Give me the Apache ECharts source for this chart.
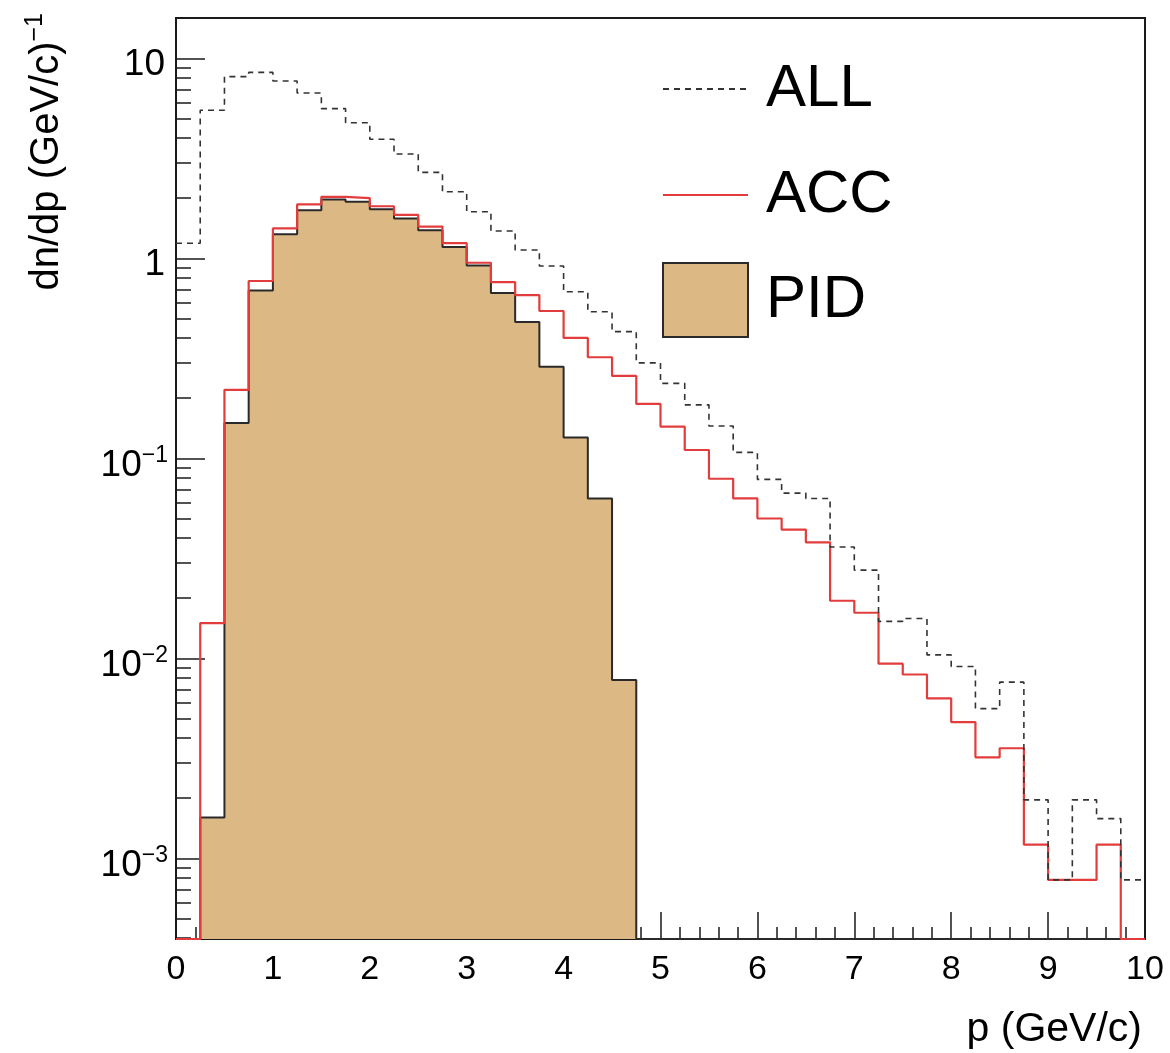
<!DOCTYPE html>
<html>
<head>
<meta charset="utf-8">
<script src="https://cdn.jsdelivr.net/npm/echarts@6/dist/echarts.min.js"></script>
<style>
html,body{margin:0;padding:0;background:#ffffff;}
#chart{width:1170px;height:1053px;}
</style>
</head>
<body>
<div id="chart"></div>
<script>
// ---- data ----
const binEdges = [0, 0.25, 0.5, 0.75, 1, 1.25, 1.5, 1.75, 2, 2.25, 2.5, 2.75, 3, 3.25, 3.5, 3.75,
  4, 4.25, 4.5, 4.75, 5, 5.25, 5.5, 5.75, 6, 6.25, 6.5, 6.75, 7, 7.25, 7.5, 7.75,
  8, 8.25, 8.5, 8.75, 9, 9.25, 9.5, 9.75, 10];

const allValues = [1.19, 5.5, 8.1, 8.5, 7.7, 6.7, 5.6, 4.76, 3.94, 3.32,
  2.69, 2.15, 1.71, 1.37, 1.10, 0.915, 0.68, 0.54, 0.43, 0.30,
  0.237, 0.185, 0.145, 0.107, 0.0785, 0.067, 0.063, 0.036, 0.0276, 0.0153,
  0.0158, 0.0104, 0.0091, 0.0056, 0.0076, 0.00196, 0.00078, 0.00196, 0.00158, 0.00078];

const accValues = [0, 0.015, 0.22, 0.77, 1.41, 1.86, 2.03, 2.0, 1.82, 1.65,
  1.44, 1.19, 0.95, 0.76, 0.655, 0.545, 0.40, 0.32, 0.258, 0.187,
  0.144, 0.110, 0.079, 0.063, 0.050, 0.044, 0.038, 0.0194, 0.0169, 0.0094,
  0.0083, 0.0063, 0.0048, 0.0032, 0.00355, 0.00117, 0.00078, 0.00078, 0.00117, 0];

const pidValues = [0, 0.0016, 0.15, 0.69, 1.32, 1.74, 1.97, 1.92, 1.76, 1.58,
  1.38, 1.14, 0.92, 0.67, 0.48, 0.287, 0.127, 0.063, 0.0078, 0,
  0, 0, 0, 0, 0, 0, 0, 0, 0, 0,
  0, 0, 0, 0, 0, 0, 0, 0, 0, 0];

const seriesNames = ['ALL', 'ACC', 'PID'];
const xTickLabels = [0, 1, 2, 3, 4, 5, 6, 7, 8, 9, 10];
const yMajorTicks = [0.001, 0.01, 0.1, 1, 10];
const yMinorTicks = [0.0004, 0.0005, 0.0006, 0.0007, 0.0008, 0.0009,
  0.002, 0.003, 0.004, 0.005, 0.006, 0.007, 0.008, 0.009,
  0.02, 0.03, 0.04, 0.05, 0.06, 0.07, 0.08, 0.09,
  0.2, 0.3, 0.4, 0.5, 0.6, 0.7, 0.8, 0.9,
  2, 3, 4, 5, 6, 7, 8, 9];

const Y_MIN = 0.000395;
const Y_MAX = 15.9;

// ---- build step outlines (empty bins sit on the frame bottom) ----
function stepPoints(vals) {
  const pts = vals.map((v, i) => [binEdges[i], v > 0 ? v : Y_MIN]);
  const last = vals[vals.length - 1];
  pts.push([binEdges[binEdges.length - 1], last > 0 ? last : Y_MIN]);
  return pts;
}

const FONT = 'Liberation Sans, Arial, Helvetica, sans-serif';
const AXIS_COLOR = '#1a1a1a';
const PID_FILL = '#dcb884';
const ACC_RED = '#e23c3c';
const ALL_COLOR = '#333333';

function makeLegend(name, top, itemStyle) {
  return {
    orient: 'vertical',
    left: 657, top: top,
    itemWidth: 85, itemHeight: 74, itemGap: 0,
    textStyle: {fontSize: 60, fontFamily: FONT, color: '#000', padding: [8, 0, 0, 13]},
    data: [Object.assign({name: name}, itemStyle)]
  };
}

const chart = echarts.init(document.getElementById('chart'), null, {renderer: 'canvas'});

const option = {
  animation: false,
  backgroundColor: '#ffffff',
  grid: {
    left: 176, top: 18, right: 25, bottom: 114,
    show: true, borderColor: AXIS_COLOR, borderWidth: 2, backgroundColor: 'transparent'
  },
  legend: [
    makeLegend(seriesNames[0], 54, {itemStyle: {color: 'rgba(0,0,0,0)', borderWidth: 0, opacity: 0}}),
    makeLegend(seriesNames[1], 160, {itemStyle: {color: 'rgba(0,0,0,0)', borderWidth: 0, opacity: 0}}),
    makeLegend(seriesNames[2], 257, {icon: 'rect', itemStyle: {color: PID_FILL, borderColor: '#2a2a2a', borderWidth: 2}})
  ],
  xAxis: {
    type: 'value', min: 0, max: 10, interval: 1,
    axisLine: {show: true, onZero: false, lineStyle: {color: AXIS_COLOR, width: 2}},
    axisTick: {show: true, inside: true, length: 27, lineStyle: {color: AXIS_COLOR, width: 1.5}},
    minorTick: {show: true, splitNumber: 5, length: 12, lineStyle: {color: AXIS_COLOR, width: 1.5}},
    splitLine: {show: false},
    axisLabel: {
      fontSize: 34, fontFamily: FONT, color: '#000', margin: 14,
      formatter: v => (xTickLabels.indexOf(v) >= 0 ? String(v) : '')
    },
    name: 'p (GeV/c)',
    nameLocation: 'end',
    nameGap: -3,
    nameTextStyle: {fontSize: 41, fontFamily: FONT, color: '#000', align: 'right', verticalAlign: 'top', padding: [70, 0, 0, 0]}
  },
  yAxis: [
    {
      type: 'log', logBase: 10, min: Y_MIN, max: Y_MAX,
      axisLine: {show: true, onZero: false, lineStyle: {color: AXIS_COLOR, width: 2}},
      axisTick: {show: true, inside: true, length: 29, customValues: yMajorTicks, lineStyle: {color: AXIS_COLOR, width: 1.5}},
      minorTick: {show: false},
      splitLine: {show: false},
      axisLabel: {
        customValues: yMajorTicks,
        margin: 8,
        color: '#000',
        formatter: function (v) {
          const e = Math.round(Math.log10(v));
          if (e === 1) return '{b|10}{p|}';
          if (e === 0) return '{b|1}{p|}';
          return '{b|10}{s|\u2212' + (-e) + '}';
        },
        rich: {
          b: {fontSize: 37, fontFamily: FONT, color: '#000', padding: [14, 0, 0, 0]},
          s: {fontSize: 23, fontFamily: FONT, color: '#000', padding: [0, 0, 6, 0]},
          p: {width: 3}
        }
      },
      name: '{t|dn/dp (GeV/c)}{s|\u22121}',
      nameLocation: 'end',
      nameRotate: 90,
      nameGap: 5,
      nameTextStyle: {
        align: 'right', verticalAlign: 'bottom', padding: [0, 0, 106, 0],
        rich: {
          t: {fontSize: 40, fontFamily: FONT, color: '#000'},
          s: {fontSize: 25, fontFamily: FONT, color: '#000', padding: [0, 0, 22, 0]}
        }
      }
    },
    {
      type: 'log', logBase: 10, min: Y_MIN, max: Y_MAX, position: 'left',
      axisLine: {show: false},
      axisTick: {show: true, inside: true, length: 15, customValues: yMinorTicks, lineStyle: {color: AXIS_COLOR, width: 1.5}},
      axisLabel: {show: false},
      splitLine: {show: false}
    }
  ],
  series: [
    {
      name: seriesNames[2], type: 'line', step: 'end', yAxisIndex: 0,
      data: stepPoints(pidValues),
      symbol: 'none', clip: true, z: 2,
      itemStyle: {color: PID_FILL},
      lineStyle: {color: '#2a2a2a', width: 2},
      areaStyle: {color: PID_FILL, opacity: 1, origin: 'start'}
    },
    {
      name: seriesNames[1], type: 'line', step: 'end', yAxisIndex: 0,
      data: stepPoints(accValues),
      symbol: 'none', clip: true, z: 3,
      itemStyle: {color: ACC_RED},
      lineStyle: {color: ACC_RED, width: 2.2}
    },
    {
      name: seriesNames[0], type: 'line', step: 'end', yAxisIndex: 0,
      data: stepPoints(allValues),
      symbol: 'none', clip: true, z: 4,
      itemStyle: {color: ALL_COLOR},
      lineStyle: {color: ALL_COLOR, width: 1.6, type: [6, 5]}
    }
  ]
};

chart.setOption(option);
</script>
</body>
</html>
